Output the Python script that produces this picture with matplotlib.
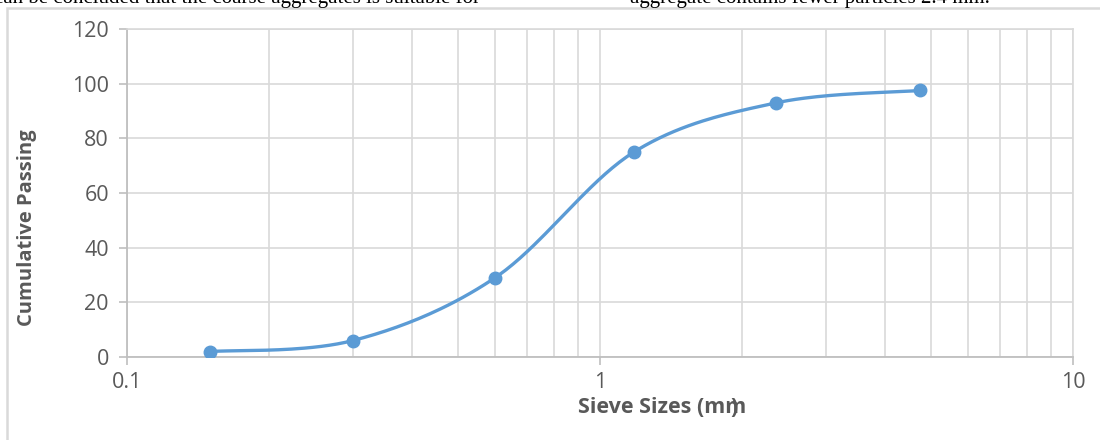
import numpy as np
import matplotlib.pyplot as plt
from matplotlib.patches import Rectangle
from matplotlib.ticker import LogLocator, NullFormatter, FixedLocator

sieve_mm = [0.15, 0.3, 0.6, 1.18, 2.36, 4.75]
passing = [2, 6, 29, 75, 93, 97.5]

line_col = '#5B9BD5'
grid_col = '#d9d9d9'
text_col = '#595959'

plt.rcParams['font.family'] = ['Open Sans', 'DejaVu Sans']

fig = plt.figure(figsize=(11, 4.4), dpi=100)
ax = fig.add_axes([127/1100, 1 - 357/440, (1073-127)/1100, (357-29)/440])

ax.set_xscale('log')
ax.set_xlim(0.1, 10)
ax.set_ylim(0, 120)

# excel style smoothed line: bezier through points in display-like space
W, H = 946.0, 328.0
px = (np.log10(sieve_mm) + 1) / 2 * W
py = np.array(passing) / 120 * H
P = np.column_stack([px, py])
n = len(P)
curve = [P[0]]
for i in range(n - 1):
    p0 = P[i - 1] if i > 0 else P[i]
    p1, p2 = P[i], P[i + 1]
    p3 = P[i + 2] if i + 2 < n else P[i + 1]
    c1 = p1 + (p2 - p0) / 6
    c2 = p2 - (p3 - p1) / 6
    t = np.linspace(0, 1, 40)[1:, None]
    seg = (1-t)**3*p1 + 3*(1-t)**2*t*c1 + 3*(1-t)*t**2*c2 + t**3*p2
    curve.extend(seg)
curve = np.array(curve)
cx = 10 ** (curve[:, 0] / W * 2 - 1)
cy = curve[:, 1] / H * 120

ax.plot(cx, cy, color=line_col, lw=2.4, solid_capstyle='round', zorder=3)
ax.plot(sieve_mm, passing, 'o', color=line_col, ms=9, zorder=4)

ax.set_yticks(np.arange(0, 121, 20))
ax.xaxis.set_major_locator(FixedLocator([0.1, 1, 10]))
ax.set_xticklabels(['0.1', '1', '10'])
ax.xaxis.set_minor_locator(LogLocator(base=10, subs=np.arange(2, 10)))
ax.xaxis.set_minor_formatter(NullFormatter())

ax.grid(True, which='major', color=grid_col, lw=1.2)
ax.grid(True, which='minor', axis='x', color=grid_col, lw=1.2)
ax.set_axisbelow(True)

for s in ['top', 'right']:
    ax.spines[s].set_color(grid_col)
    ax.spines[s].set_linewidth(1.2)
for s in ['left', 'bottom']:
    ax.spines[s].set_color('#bfbfbf')
    ax.spines[s].set_linewidth(1.3)

ax.tick_params(axis='y', which='major', length=6, width=1.2, color='#bfbfbf',
               labelsize=15.5, labelcolor=text_col, pad=7)
ax.tick_params(axis='x', which='major', length=6, width=1.2, color='#bfbfbf',
               labelsize=15.5, labelcolor=text_col, pad=5)
ax.tick_params(axis='x', which='minor', length=0)

fig.text(27/1100, 1 - 228/440, 'Cumulative Passing', fontsize=14.5,
         fontweight='bold', color=text_col, rotation=90, ha='center', va='center')

# x label with the stray overlapping bracket
fig.text(578/1100, 1 - 413/440, 'Sieve Sizes (mm', fontsize=15.5,
         fontweight='bold', color=text_col, ha='left', va='baseline')
fig.text(734/1100, 1 - 413/440, ')', fontsize=15.5,
         fontweight='bold', color=text_col, ha='center', va='baseline')

# chart border
fig.patches.append(Rectangle((7/1100, -0.1), 1.2, 1 - 8/440 + 0.1,
                             transform=fig.transFigure, fill=False,
                             edgecolor=grid_col, lw=1.8, clip_on=False))

# cut-off document text at the top
fig.text(480/1100, 1 - 3/440, 'can be concluded that the coarse aggregates is suitable for',
         family='Liberation Serif', fontsize=15, ha='right', va='baseline')
fig.text(630/1100, 1 - 3/440, 'aggregate contains fewer particles 2.4 mm.',
         family='Liberation Serif', fontsize=15, ha='left', va='baseline')

fig.savefig('out.png', dpi=100)
